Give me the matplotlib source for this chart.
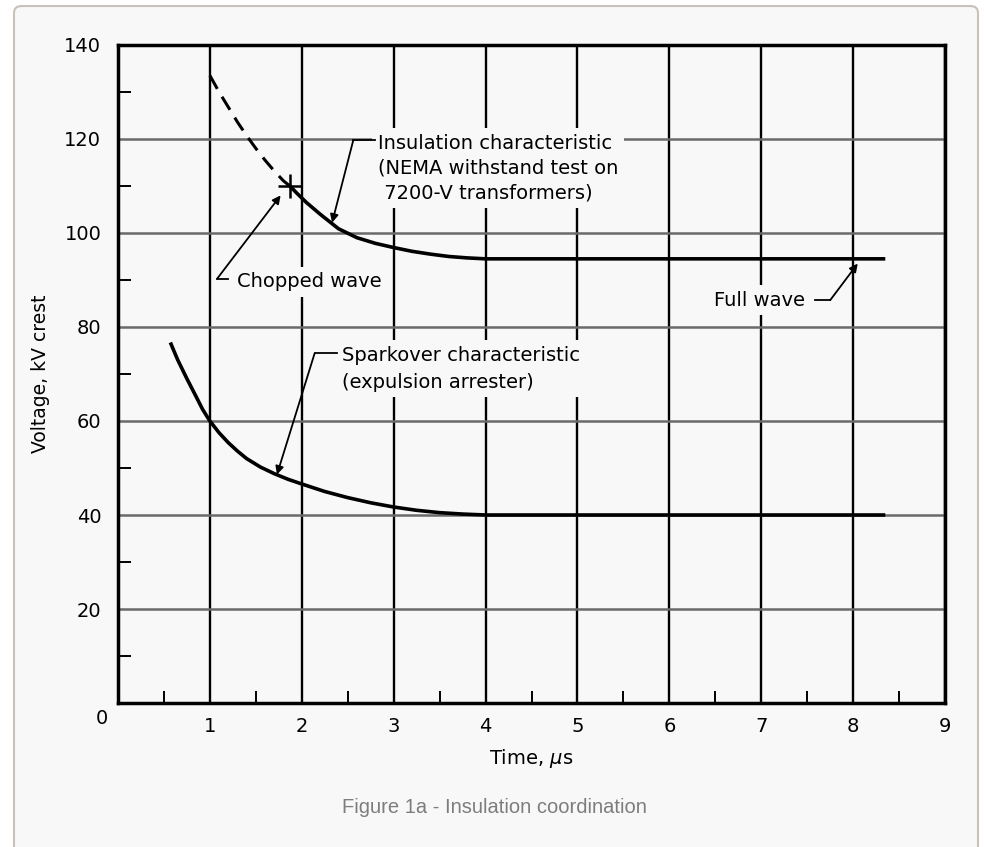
import matplotlib.pyplot as plt
from matplotlib.patches import FancyBboxPatch
from matplotlib.ticker import MultipleLocator

# ---------------------------------------------------------------
# Data
# ---------------------------------------------------------------
# insulation characteristic, dashed part (chopped wave region)
ins_dash_x = [1.0, 1.1, 1.2, 1.3, 1.4, 1.5, 1.6, 1.7, 1.8, 1.87]
ins_dash_y = [133.5, 130.0, 126.8, 123.6, 120.7, 118.0, 115.5, 113.2, 111.1, 110.0]

# insulation characteristic, solid part
ins_x = [1.87, 1.95, 2.05, 2.2, 2.4, 2.6, 2.8, 3.0, 3.2, 3.4, 3.6, 3.8, 4.0,
         5.0, 6.0, 7.0, 8.0, 8.35]
ins_y = [110.0, 108.4, 106.5, 104.0, 100.9, 99.0, 97.8, 96.9, 96.1, 95.5, 95.0, 94.7, 94.5,
         94.5, 94.5, 94.5, 94.5, 94.5]

# sparkover characteristic (expulsion arrester)
spk_x = [0.57, 0.65, 0.75, 0.85, 0.92, 1.0, 1.1, 1.2, 1.3, 1.4, 1.55, 1.7, 1.85,
         2.0, 2.25, 2.5, 2.75, 3.0, 3.25, 3.5, 3.75, 4.0, 5.0, 6.0, 7.0, 8.35]
spk_y = [76.7, 73.0, 69.0, 65.2, 62.5, 60.0, 57.5, 55.4, 53.6, 52.0, 50.2, 48.8, 47.6,
         46.6, 45.0, 43.7, 42.6, 41.7, 41.0, 40.5, 40.2, 40.0, 40.0, 40.0, 40.0, 40.0]

# point where chopped wave and full wave curves meet
cross_x = [1.87]
cross_y = [110.0]

x_ticks = [1, 2, 3, 4, 5, 6, 7, 8, 9]
y_ticks = [20, 40, 60, 80, 100, 120, 140]

BG = '#f8f8f8'
TXT = dict(fontsize=14, color='black', family='DejaVu Sans')

# ---------------------------------------------------------------
# Figure and panel frame
# ---------------------------------------------------------------
fig = plt.figure(figsize=(9.84, 8.47), dpi=100, facecolor='white')
frame = FancyBboxPatch((14 / 984, -0.05), 964 / 984, 1.05 - 6 / 847,
                       boxstyle='round,pad=0,rounding_size=0.008',
                       transform=fig.transFigure, facecolor=BG,
                       edgecolor='#c9c2bb', lw=1.5, zorder=-5)
fig.patches.append(frame)

ax = fig.add_axes([0.1199, 0.1700, 0.8405, 0.7769])
ax.set_zorder(2)
ax.set_facecolor('none')
ax.set_xlim(0, 9)
ax.set_ylim(0, 140)

for s in ax.spines.values():
    s.set_linewidth(2.5)
    s.set_color('black')

ax.set_xticks(x_ticks)
ax.set_yticks(y_ticks)
ax.set_xticklabels([str(v) for v in x_ticks])
ax.set_yticklabels([str(v) for v in y_ticks])
ax.xaxis.set_minor_locator(MultipleLocator(0.5))
ax.yaxis.set_minor_locator(MultipleLocator(10))
ax.tick_params(which='major', length=0, labelsize=14)
ax.tick_params(axis='x', which='major', pad=10)
ax.tick_params(axis='y', which='major', pad=12)
ax.tick_params(which='minor', direction='in', length=9, width=1.4, color='black')

# grid lines: verticals black, horizontals a bit lighter
ax.set_axisbelow(True)
ax.grid(axis='x', which='major', color='black', lw=1.7)
ax.grid(axis='y', which='major', color='#6a6a6a', lw=1.8)

# corner zero label
ax.text(-0.17, -3.2, '0', ha='center', va='center', clip_on=False, **TXT)

ax.set_xlabel('Time, $\\mu$s', fontsize=14, labelpad=8)
ax.set_ylabel('Voltage, kV crest', fontsize=13.5, labelpad=10)

# ---------------------------------------------------------------
# Curves
# ---------------------------------------------------------------
ax.plot(ins_dash_x, ins_dash_y, color='black', lw=2.2, ls=(0, (5, 3)), zorder=5)
ax.plot(ins_x, ins_y, color='black', lw=2.6, zorder=5,
        solid_capstyle='butt', solid_joinstyle='round')
ax.plot(spk_x, spk_y, color='black', lw=2.6, zorder=5,
        solid_capstyle='butt', solid_joinstyle='round')
ax.plot(cross_x, cross_y, marker='+', ms=17, mew=1.8, color='black', ls='none', zorder=6)

# ---------------------------------------------------------------
# Labels with leader lines
# ---------------------------------------------------------------
box = dict(facecolor=BG, edgecolor='none', pad=4)


def leader(text_end, corner, tip):
    ax.plot([text_end[0], corner[0]], [text_end[1], corner[1]], color='black', lw=1.3, zorder=7)
    ax.annotate('', xy=tip, xytext=corner,
                arrowprops=dict(arrowstyle='-|>', color='black', lw=1.3,
                                mutation_scale=12, shrinkA=0, shrinkB=0),
                zorder=7)


ax.text(2.83, 113.8, 'Insulation characteristic\n(NEMA withstand test on\n 7200-V transformers)',
        ha='left', va='center', linespacing=1.4, bbox=box, zorder=4, **TXT)
leader((2.80, 119.7), (2.56, 119.7), (2.33, 102.2))

ax.text(1.30, 89.6, 'Chopped wave', ha='left', va='center', bbox=box, zorder=4, **TXT)
leader((1.20, 90.3), (1.08, 90.3), (1.77, 108.0))

ax.text(7.48, 85.7, 'Full wave', ha='right', va='center', bbox=box, zorder=4, **TXT)
leader((7.58, 85.7), (7.75, 85.7), (8.05, 93.5))

ax.text(2.44, 71.1, 'Sparkover characteristic\n(expulsion arrester)',
        ha='left', va='center', linespacing=1.5, bbox=box, zorder=4, **TXT)
leader((2.38, 74.4), (2.14, 74.4), (1.73, 48.6))

# ---------------------------------------------------------------
# Caption
# ---------------------------------------------------------------
fig.text(494 / 984, 1 - 807 / 847, 'Figure 1a - Insulation coordination',
         ha='center', va='center', fontsize=14.5, color='#7d7d7d',
         family='Liberation Sans')

fig.savefig('out.png', dpi=100, facecolor=fig.get_facecolor())
